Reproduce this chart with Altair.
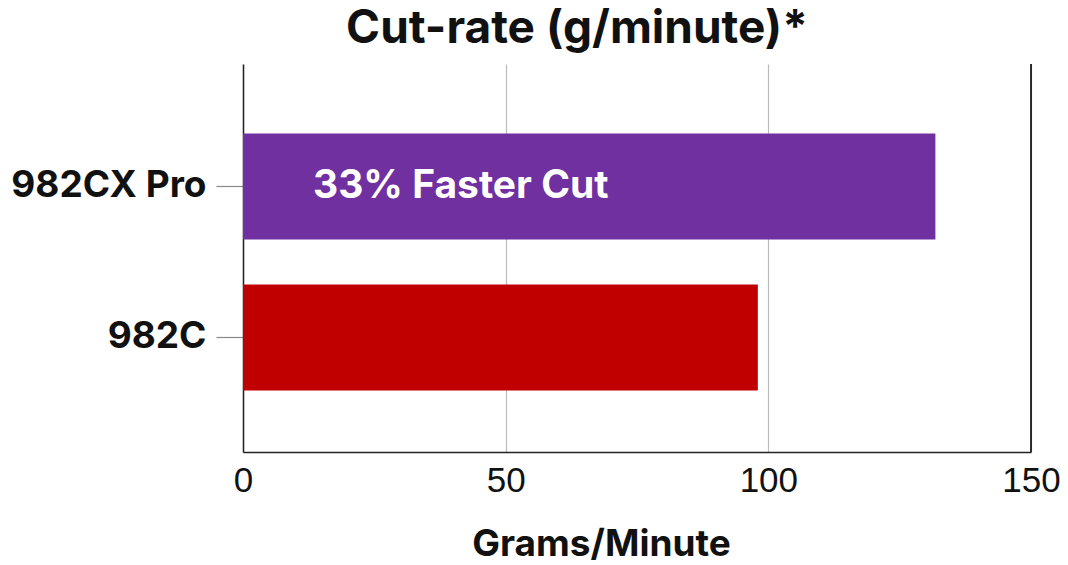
import altair as alt
import pandas as pd

products = ["982CX Pro", "982C"]
cut_rate = [131.8, 98.0]
bar_colors = ["#7030A0", "#C00000"]
bar_labels = ["33% Faster Cut", ""]
x_ticks = [0, 50, 100, 150]

df = pd.DataFrame({
    "product": products,
    "rate": cut_rate,
    "color": bar_colors,
    "label": bar_labels,
})

y_enc = alt.Y(
    "product:N",
    sort=products,
    title=None,
    scale=alt.Scale(paddingInner=0.298, paddingOuter=0.434, align=0.53),
    axis=alt.Axis(
        labelFont="Inter", labelFontWeight="bold", labelFontSize=37,
        labelColor="#111", labelLimit=400, tickSize=27, tickColor="#888",
        tickWidth=1.2, labelPadding=10, domainColor="#222", domainWidth=1.5,
        grid=False,
    ),
)

bars = alt.Chart(df).mark_bar().encode(
    x=alt.X(
        "rate:Q",
        scale=alt.Scale(domain=[0, 150], nice=False),
        title="Grams/Minute",
        axis=alt.Axis(
            values=x_ticks, labelFont="Liberation Sans", labelFontSize=35,
            labelColor="#111", ticks=False, labelPadding=11, labelFlush=False,
            domainColor="#222", domainWidth=1.5,
            gridColor="#bbbbbb", gridWidth=1.2,
            titleFont="Inter", titleFontWeight="bold", titleFontSize=37,
            titleColor="#111", titleX=358, titleY=103,
            titleBaseline="alphabetic",
        ),
    ),
    y=y_enc,
    color=alt.Color("color:N", scale=None),
)

labels = alt.Chart(df).mark_text(
    align="left", baseline="middle", dx=70, dy=0,
    font="Inter", fontWeight="bold", fontSize=39, color="white",
).encode(
    x=alt.datum(0),
    y=alt.Y("product:N", sort=products),
    text="label:N",
)

right_line = alt.Chart(df).mark_rule(color="#222", strokeWidth=1.5).encode(
    x=alt.datum(150),
)

chart = alt.layer(bars, labels, right_line).properties(
    width=788,
    height=388,
    autosize=alt.AutoSizeParams(type="none"),
    padding={"left": 235, "top": 56, "right": 29, "bottom": 115},
    title=alt.TitleParams(
        "Cut-rate (g/minute)*", font="Inter", fontWeight="bold",
        fontSize=46, color="#111", dx=-60, offset=10,
    ),
).configure_view(stroke=None)

chart.save("out.html", embed_options={"renderer": "svg", "actions": False})
